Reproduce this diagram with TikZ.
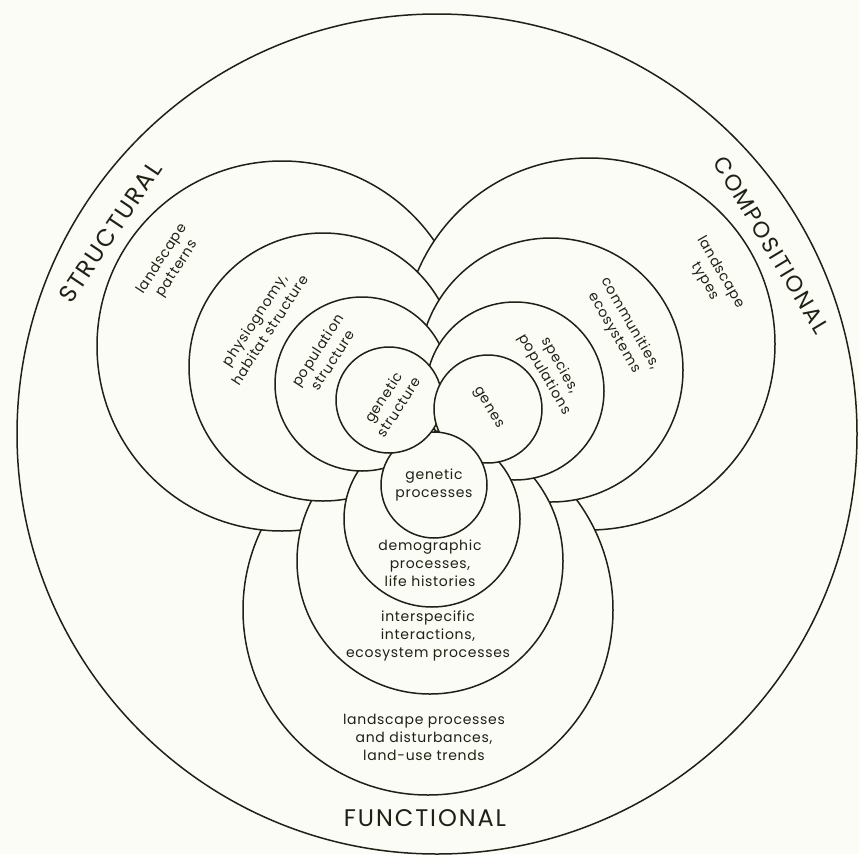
\documentclass[tikz,border=0pt]{standalone}
\usepackage{fontspec}
\setmainfont{Poppins}
\newfontfamily\lblfont[LetterSpace=5]{Poppins}
\newfontfamily\capfont[LetterSpace=8]{Poppins}
\definecolor{bgcol}{RGB}{252,252,246}
\definecolor{inkcol}{RGB}{32,32,20}
\tikzset{
  ring/.style={draw=inkcol, line width=1.5pt},
  lbl/.style={text=inkcol, align=center, inner sep=0pt,
    font=\lblfont\fontsize{14}{18}\selectfont},
  caplbl/.style={text=inkcol, inner sep=0pt,
    font=\capfont\fontsize{24}{28}\selectfont}
}
\newcommand{\ringdraw}[6]{%
  \begin{scope}[even odd rule]
    \clip (-60,-60) rectangle (920,920) (#3) circle[radius=#4pt];
    \clip (-60,-60) rectangle (920,920) (#5) circle[radius=#6pt];
    \draw[ring] (#1) circle[radius=#2pt];
  \end{scope}}
\begin{document}
\begin{tikzpicture}[x=1pt,y=-1pt]
  \fill[bgcol] (0,0) rectangle (859,854);
  \useasboundingbox (0,0) rectangle (859,854);
  % centres
  \coordinate (O) at (437,434);
  \coordinate (S1) at (282,346);
  \coordinate (S2) at (323,367);
  \coordinate (S3) at (362,384);
  \coordinate (S4) at (389,400);
  \coordinate (C1) at (589,344);
  \coordinate (C2) at (551,370);
  \coordinate (C3) at (515,391);
  \coordinate (C4) at (488,409);
  \coordinate (F1) at (428,610);
  \coordinate (F2) at (430,561);
  \coordinate (F3) at (432,519);
  \coordinate (F4) at (434,485);
  \coordinate (none) at (-40,-40);
  % outer circle
  \draw[ring] (O) circle[radius=420pt];
  % structural
  \ringdraw{S1}{185}{C1}{186}{F2}{133}
  \ringdraw{S2}{134}{C2}{132}{F3}{88}
  \ringdraw{S3}{87}{C3}{89}{F4}{53}
  \ringdraw{S4}{53}{C4}{54}{none}{1}
  % compositional
  \ringdraw{C1}{186}{S2}{134}{F1}{185}
  \ringdraw{C2}{132}{S3}{87}{F2}{133}
  \ringdraw{C3}{89}{S4}{53}{F3}{88}
  \ringdraw{C4}{54}{none}{1}{F4}{53}
  % functional
  \ringdraw{F1}{185}{C2}{132}{S1}{185}
  \ringdraw{F2}{133}{C3}{89}{S2}{134}
  \ringdraw{F3}{88}{C4}{54}{S3}{87}
  \ringdraw{F4}{53}{none}{1}{S4}{53}
  % group titles
  \node[caplbl, rotate=56] (tS) at (110,232) {STRUCTURAL};
  \node[caplbl, rotate=-59, font=\capfont\fontsize{22.5}{26}\selectfont] (tC) at (771,245) {COMPOSITIONAL};
  \node[caplbl] (tF) at (425,818) {FUNCTIONAL};
  % structural labels
  \node[lbl, rotate=57] (lS1) at (170,264) {landscape\\patterns};
  \node[lbl, rotate=57] (lS2) at (262,325) {physiognomy,\\habitat structure};
  \node[lbl, rotate=57] (lS3) at (325,355) {population\\structure};
  \node[lbl, rotate=57] (lS4) at (391,402) {genetic\\structure};
  % compositional labels
  \node[lbl, rotate=-60] (lC1) at (713,277) {landscape\\types};
  \node[lbl, rotate=-60] (lC2) at (622,328) {communities,\\ecosystems};
  \node[lbl, rotate=-60] (lC3) at (552,370) {species,\\populations};
  \node[lbl, rotate=-60] (lC4) at (488,408) {genes};
  % functional labels
  \node[lbl] (lF4) at (434,485) {genetic\\processes};
  \node[lbl] (lF3) at (430,563) {demographic\\processes,\\life histories};
  \node[lbl] (lF2) at (428,636) {interspecific\\interactions,\\ecosystem processes};
  \node[lbl] (lF1) at (424,737) {landscape processes\\and disturbances,\\land-use trends};
\end{tikzpicture}
\end{document}
